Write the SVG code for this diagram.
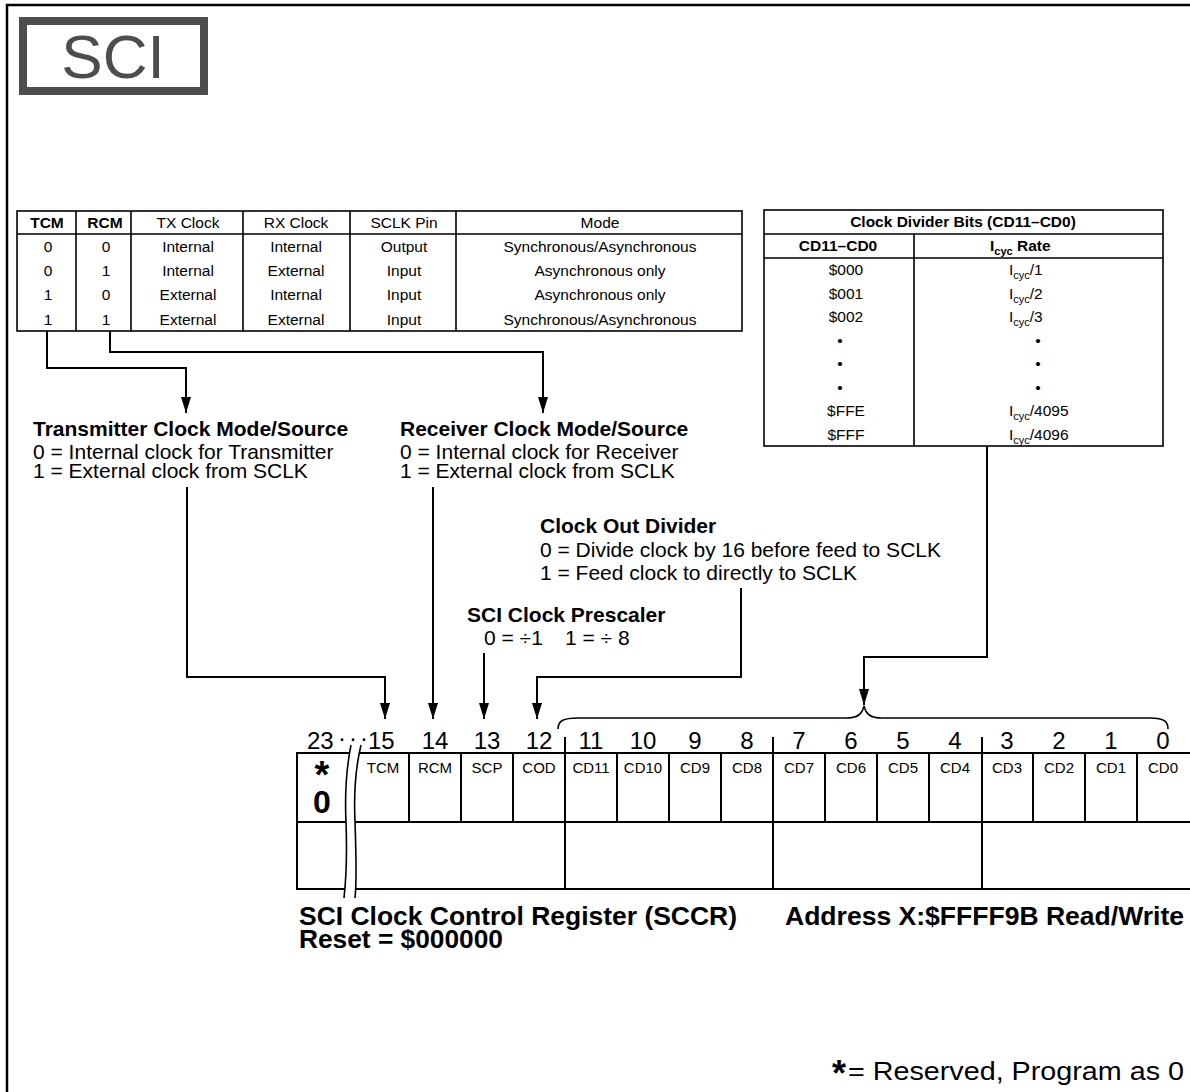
<svg xmlns="http://www.w3.org/2000/svg" width="1190" height="1092" viewBox="0 0 1190 1092">
<style>
text{font-family:"Liberation Sans",Arial,Helvetica,sans-serif;fill:#000}
.tb{font-size:15.5px;text-anchor:middle}
.tbb{font-size:15.5px;font-weight:bold;text-anchor:middle}
.tbl{font-size:15.5px}
.desc{font-size:21px}
.descb{font-size:21px;font-weight:bold}
.big{font-size:26px;font-weight:bold}
.bitn{font-size:24px;text-anchor:middle}
.cell{font-size:15px;text-anchor:middle}
.ln{stroke:#000;stroke-width:2;fill:none}
.tl{stroke:#000;stroke-width:1.6;fill:none}
.con{stroke:#000;stroke-width:2;fill:none}
</style>
<defs>
<marker id="arr" markerUnits="userSpaceOnUse" markerWidth="16" markerHeight="10" viewBox="0 0 16 10" refX="16" refY="5" orient="auto">
<path d="M0,0 L16,5 L0,10 Z" fill="#000"/>
</marker>
</defs>
<rect width="1190" height="1092" fill="#fff"/>
<path d="M7,1092 V5 H1190" fill="none" stroke="#000" stroke-width="2.5"/>

<g id="title">
<rect x="23" y="21" width="181" height="70" fill="#fff" stroke="#4d4d4d" stroke-width="8"/>
<text x="113" y="78" text-anchor="middle" style="font-size:62px;fill:#4d4d4d">SCI</text>
</g>

<g id="mode-table">
<rect x="17" y="211" width="725" height="120" class="tl"/>
<path class="tl" d="M17,234 H742 M76,211 V331 M131,211 V331 M243,211 V331 M350,211 V331 M456,211 V331"/>
<text class="tbb" x="47" y="227.5">TCM</text>
<text class="tbb" x="105" y="227.5">RCM</text>
<text class="tb" x="188" y="227.5">TX Clock</text>
<text class="tb" x="296" y="227.5">RX Clock</text>
<text class="tb" x="404" y="227.5">SCLK Pin</text>
<text class="tb" x="600" y="227.5">Mode</text>
<text class="tb" x="48" y="251.5">0</text><text class="tb" x="106" y="251.5">0</text><text class="tb" x="188" y="251.5">Internal</text><text class="tb" x="296" y="251.5">Internal</text><text class="tb" x="404" y="251.5">Output</text><text class="tb" x="600" y="251.5">Synchronous/Asynchronous</text>
<text class="tb" x="48" y="276">0</text><text class="tb" x="106" y="276">1</text><text class="tb" x="188" y="276">Internal</text><text class="tb" x="296" y="276">External</text><text class="tb" x="404" y="276">Input</text><text class="tb" x="600" y="276">Asynchronous only</text>
<text class="tb" x="48" y="300">1</text><text class="tb" x="106" y="300">0</text><text class="tb" x="188" y="300">External</text><text class="tb" x="296" y="300">Internal</text><text class="tb" x="404" y="300">Input</text><text class="tb" x="600" y="300">Asynchronous only</text>
<text class="tb" x="48" y="324.5">1</text><text class="tb" x="106" y="324.5">1</text><text class="tb" x="188" y="324.5">External</text><text class="tb" x="296" y="324.5">External</text><text class="tb" x="404" y="324.5">Input</text><text class="tb" x="600" y="324.5">Synchronous/Asynchronous</text>
</g>

<g id="divider-table">
<rect x="764" y="210" width="399" height="236" class="tl"/>
<path class="tl" d="M764,234 H1163 M764,258 H1163 M914,234 V446"/>
<text class="tbb" x="963" y="227">Clock Divider Bits (CD11–CD0)</text>
<text class="tbb" x="838" y="251">CD11–CD0</text>
<text class="tbl" x="990" y="251" style="font-weight:bold">I<tspan font-size="11" dy="4">cyc</tspan><tspan dy="-4"> Rate</tspan></text>
<text class="tb" x="846" y="275.3">$000</text>
<text class="tb" x="846" y="298.8">$001</text>
<text class="tb" x="846" y="322.3">$002</text>
<text class="tb" x="840" y="345.8">•</text>
<text class="tb" x="840" y="369.3">•</text>
<text class="tb" x="840" y="392.8">•</text>
<text class="tb" x="846" y="416.3">$FFE</text>
<text class="tb" x="846" y="439.8">$FFF</text>
<text class="tbl" x="1009" y="275.3">I<tspan font-size="11" dy="4">cyc</tspan><tspan dy="-4">/1</tspan></text>
<text class="tbl" x="1009" y="298.8">I<tspan font-size="11" dy="4">cyc</tspan><tspan dy="-4">/2</tspan></text>
<text class="tbl" x="1009" y="322.3">I<tspan font-size="11" dy="4">cyc</tspan><tspan dy="-4">/3</tspan></text>
<text class="tb" x="1038" y="345.8">•</text>
<text class="tb" x="1038" y="369.3">•</text>
<text class="tb" x="1038" y="392.8">•</text>
<text class="tbl" x="1009" y="416.3">I<tspan font-size="11" dy="4">cyc</tspan><tspan dy="-4">/4095</tspan></text>
<text class="tbl" x="1009" y="439.8">I<tspan font-size="11" dy="4">cyc</tspan><tspan dy="-4">/4096</tspan></text>
</g>

<g id="tcm-desc">
<text class="descb" x="33" y="436">Transmitter Clock Mode/Source</text>
<text class="desc" x="33" y="459">0 = Internal clock for Transmitter</text>
<text class="desc" x="33" y="478">1 = External clock from SCLK</text>
</g>
<g id="rcm-desc">
<text class="descb" x="400" y="436">Receiver Clock Mode/Source</text>
<text class="desc" x="400" y="459">0 = Internal clock for Receiver</text>
<text class="desc" x="400" y="478">1 = External clock from SCLK</text>
</g>
<g id="cod-desc">
<text class="descb" x="540" y="533">Clock Out Divider</text>
<text class="desc" x="540" y="557">0 = Divide clock by 16 before feed to SCLK</text>
<text class="desc" x="540" y="580">1 = Feed clock to directly to SCLK</text>
</g>
<g id="scp-desc">
<text class="descb" x="467" y="622">SCI Clock Prescaler</text>
<text class="desc" y="645"><tspan x="484">0 = ÷1</tspan><tspan x="565">1 = ÷ 8</tspan></text>
</g>

<g id="connectors">
<path class="con" d="M47,331 V368 H186 V413" marker-end="url(#arr)"/>
<path class="con" d="M110,331 V352 H543 V413" marker-end="url(#arr)"/>
<path class="con" d="M187,487 V677 H385 V719" marker-end="url(#arr)"/>
<path class="con" d="M433,487 V719" marker-end="url(#arr)"/>
<path class="con" d="M484,653 V719" marker-end="url(#arr)"/>
<path class="con" d="M741,588 V677 H537 V719" marker-end="url(#arr)"/>
<path class="con" d="M987,446 V657 H864 V705" marker-end="url(#arr)"/>
<path class="tl" d="M558,729 C558,721 563,718 578,718 L846,718 C858,718 862,714 864,706 C866,714 870,718 882,718 L1150,718 C1165,718 1168,722 1168,729"/>
</g>

<g id="register">
<text class="bitn" style="text-anchor:start" y="749"><tspan x="307">23</tspan><tspan x="338" dy="-3">·</tspan><tspan x="349">·</tspan><tspan x="360">·</tspan><tspan x="368" dy="3">15</tspan></text>
<text class="bitn" x="435" y="749">14</text>
<text class="bitn" x="487" y="749">13</text>
<text class="bitn" x="539" y="749">12</text>
<text class="bitn" x="591" y="749">11</text>
<text class="bitn" x="643" y="749">10</text>
<text class="bitn" x="695" y="749">9</text>
<text class="bitn" x="747" y="749">8</text>
<text class="bitn" x="799" y="749">7</text>
<text class="bitn" x="851" y="749">6</text>
<text class="bitn" x="903" y="749">5</text>
<text class="bitn" x="955" y="749">4</text>
<text class="bitn" x="1007" y="749">3</text>
<text class="bitn" x="1059" y="749">2</text>
<text class="bitn" x="1111" y="749">1</text>
<text class="bitn" x="1163" y="749">0</text>
<path class="ln" d="M297,753 H1190 M297,822 H1190 M297,889 H1190 M297,752 V890"/>
<path class="ln" d="M409,753 V822 M461,753 V822 M513,753 V822 M565,737 V889 M617,753 V822 M669,753 V822 M721,753 V822 M773,737 V889 M825,753 V822 M877,753 V822 M929,753 V822 M982,737 V889 M1033,753 V822 M1085,753 V822 M1137,753 V822"/>
<path d="M351,745 C346,770 345,800 346,822 C347,850 346,880 344,898 L355,898 C357,880 356,850 355,822 C354,800 355,770 361,745 Z" fill="#fff"/>
<path class="tl" d="M351,745 C346,770 345,800 346,822 C347,850 346,880 344,898"/>
<path class="tl" d="M361,745 C355,770 354,800 355,822 C356,850 357,880 355,898"/>
<text x="322" y="788" text-anchor="middle" style="font-size:38px;font-weight:bold">*</text>
<text x="322" y="813" text-anchor="middle" style="font-size:32px;font-weight:bold">0</text>
<text class="cell" x="383" y="773">TCM</text>
<text class="cell" x="435" y="773">RCM</text>
<text class="cell" x="487" y="773">SCP</text>
<text class="cell" x="539" y="773">COD</text>
<text class="cell" x="591" y="773">CD11</text>
<text class="cell" x="643" y="773">CD10</text>
<text class="cell" x="695" y="773">CD9</text>
<text class="cell" x="747" y="773">CD8</text>
<text class="cell" x="799" y="773">CD7</text>
<text class="cell" x="851" y="773">CD6</text>
<text class="cell" x="903" y="773">CD5</text>
<text class="cell" x="955" y="773">CD4</text>
<text class="cell" x="1007" y="773">CD3</text>
<text class="cell" x="1059" y="773">CD2</text>
<text class="cell" x="1111" y="773">CD1</text>
<text class="cell" x="1163" y="773">CD0</text>
</g>

<g id="register-caption">
<text class="big" x="299" y="925" textLength="438" lengthAdjust="spacingAndGlyphs">SCI Clock Control Register (SCCR)</text>
<text class="big" x="299" y="948" textLength="204" lengthAdjust="spacingAndGlyphs">Reset = $000000</text>
<text class="big" x="785" y="925" textLength="399" lengthAdjust="spacingAndGlyphs">Address X:$FFFF9B Read/Write</text>
</g>

<g id="footnote">
<text x="839" y="1086" text-anchor="middle" style="font-size:36px;font-weight:bold">*</text>
<text x="848" y="1080" style="font-size:25px" textLength="336" lengthAdjust="spacingAndGlyphs">= Reserved, Program as 0</text>
</g>
</svg>
